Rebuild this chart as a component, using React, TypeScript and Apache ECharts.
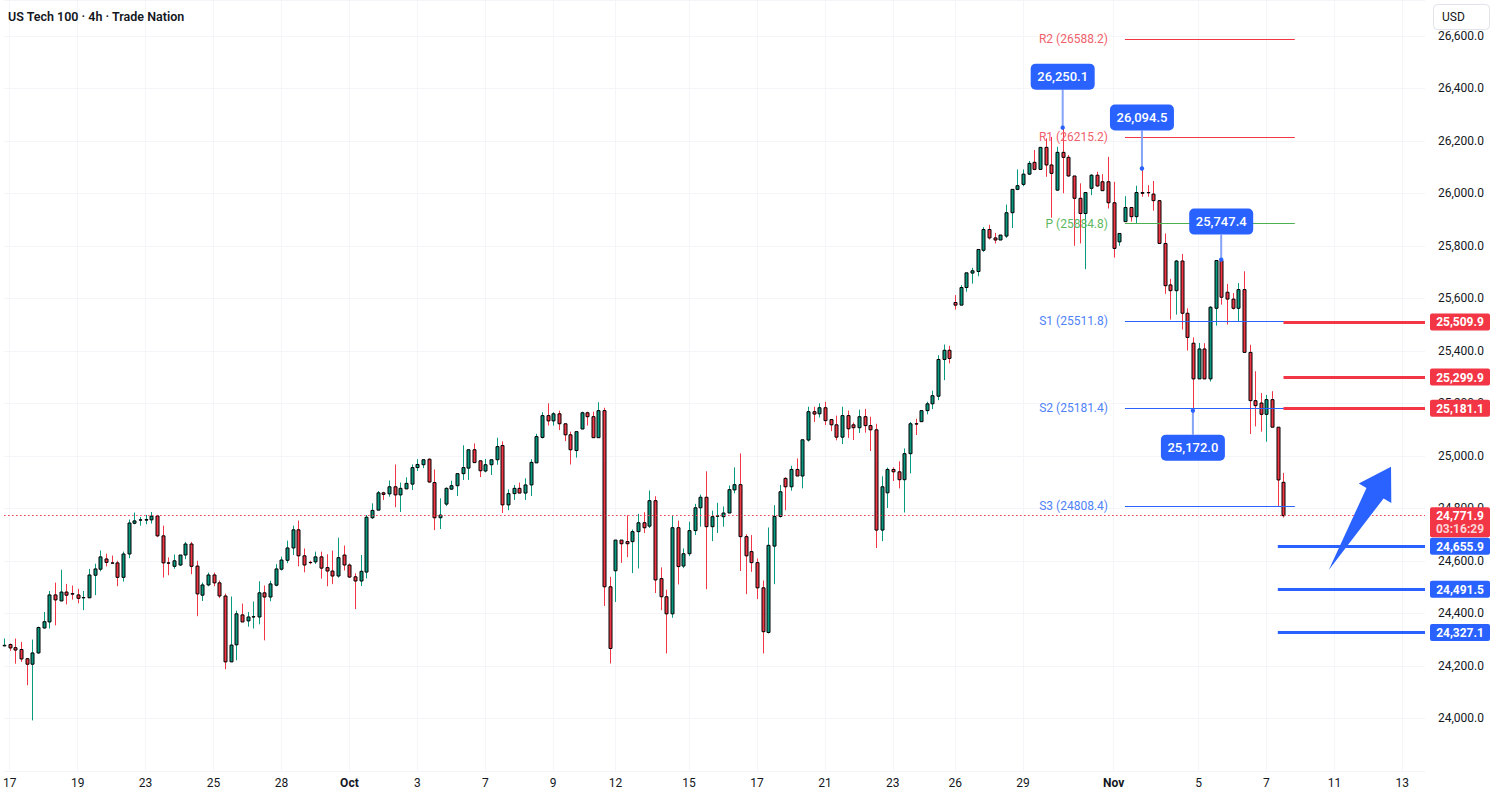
import React, { useEffect, useRef } from "react";
import * as echarts from "echarts";

// ---- Candle data (4h bars, US Tech 100) ----
const opens = [
  24276, 24281, 24269, 24262, 24227, 24206, 24249, 24344, 24367, 24470,
  24447, 24481, 24475, 24470, 24459, 24459, 24545, 24568, 24607, 24592,
  24592, 24537, 24626, 24743, 24755, 24755, 24756, 24771, 24695, 24592,
  24579, 24584, 24622, 24664, 24580, 24469, 24508, 24546, 24516, 24466,
  24215, 24280, 24394, 24371, 24386, 24386, 24478, 24462, 24507, 24568,
  24602, 24649, 24718, 24619, 24594, 24596, 24615, 24574, 24561, 24542,
  24622, 24584, 24539, 24523, 24557, 24764, 24793, 24859, 24855, 24882,
  24851, 24874, 24892, 24955, 24966, 24987, 24898, 24764, 24816, 24873,
  24886, 24932, 24953, 25023, 24981, 24942, 24966, 24985, 25039, 24813,
  24856, 24876, 24858, 24889, 24973, 25070, 25153, 25133, 25160, 25122,
  25080, 25020, 25102, 25164, 25149, 25069, 25172, 24501, 24562, 24679,
  24673, 24673, 24711, 24745, 24732, 24829, 24532, 24463, 24398, 24726,
  24580, 24627, 24715, 24802, 24842, 24730, 24770, 24768, 24782, 24870,
  24890, 24692, 24635, 24593, 24497, 24327, 24656, 24769, 24914, 24882,
  24948, 24923, 25060, 25168, 25160, 25183, 25138, 25118, 25071, 25153,
  25118, 25107, 25149, 25115, 25099, 24717, 24859, 24948, 24939, 24909,
  25008, 25122, 25130, 25172, 25198, 25227, 25367, 25402, 25584, 25574,
  25641, 25696, 25702, 25783, 25862, 25830, 25822, 25837, 25926, 26015,
  26034, 26073, 26118, 26091, 26175, 26108, 26012, 26156, 26137, 26066,
  25981, 25923, 26019, 26069, 26044, 26044, 25964, 25815, 25892, 25946,
  25911, 26003, 26003, 25997, 25972, 25809, 25651, 25629, 25742, 25543,
  25429, 25293, 25407, 25293, 25562, 25744, 25623, 25597, 25562, 25633,
  25394, 25210, 25201, 25158, 25214, 25109, 24899,
];
const highs = [
  24304, 24285, 24304, 24291, 24230, 24300, 24349, 24405, 24485, 24517,
  24566, 24512, 24506, 24493, 24485, 24569, 24589, 24639, 24627, 24620,
  24600, 24635, 24757, 24784, 24767, 24775, 24786, 24775, 24734, 24613,
  24624, 24622, 24672, 24672, 24600, 24517, 24555, 24555, 24525, 24475,
  24464, 24410, 24437, 24405, 24445, 24522, 24506, 24524, 24587, 24616,
  24677, 24734, 24753, 24647, 24600, 24635, 24635, 24625, 24639, 24688,
  24658, 24590, 24552, 24622, 24774, 24819, 24866, 24863, 24906, 24967,
  24898, 24918, 24967, 24987, 24985, 24990, 24948, 24838, 24880, 24905,
  24932, 25040, 25023, 25047, 24981, 24988, 24985, 25069, 25055, 24872,
  24889, 24898, 24914, 24987, 25084, 25166, 25200, 25166, 25172, 25122,
  25092, 25092, 25168, 25168, 25168, 25204, 25183, 24539, 24679, 24679,
  24773, 24719, 24779, 24785, 24868, 24846, 24575, 24490, 24772, 24753,
  24647, 24749, 24817, 24852, 24941, 24791, 24821, 24807, 24887, 24956,
  25009, 24701, 24698, 24609, 24525, 24727, 24812, 24889, 24918, 24962,
  24990, 25061, 25187, 25187, 25200, 25206, 25138, 25153, 25187, 25172,
  25127, 25176, 25179, 25149, 25122, 24922, 24955, 24956, 24979, 25028,
  25129, 25141, 25174, 25206, 25248, 25383, 25424, 25419, 25612, 25650,
  25697, 25716, 25786, 25871, 25880, 25849, 25841, 25957, 26015, 26091,
  26091, 26123, 26165, 26175, 26209, 26215, 26177, 26250.1, 26146, 26066,
  26038, 26003, 26073, 26082, 26073, 26139, 26044, 25847, 25989, 25946,
  26029, 26094.5, 26031, 26047, 25972, 25847, 25674, 25746, 25769, 25562,
  25451, 25430, 25429, 25570, 25745, 25747.4, 25655, 25620, 25658, 25703,
  25423, 25322, 25239, 25232, 25246, 25109, 24935,
];
const lows = [
  24274, 24257, 24208, 24215, 24126, 23992, 24246, 24342, 24342, 24354,
  24447, 24434, 24452, 24438, 24412, 24459, 24469, 24560, 24579, 24590,
  24503, 24521, 24610, 24739, 24734, 24739, 24742, 24690, 24536, 24545,
  24570, 24580, 24606, 24549, 24389, 24447, 24503, 24503, 24458, 24187,
  24215, 24221, 24367, 24349, 24342, 24358, 24297, 24446, 24503, 24563,
  24591, 24622, 24579, 24556, 24587, 24588, 24532, 24503, 24511, 24536,
  24563, 24535, 24416, 24504, 24533, 24759, 24793, 24832, 24844, 24804,
  24786, 24874, 24870, 24942, 24953, 24898, 24717, 24721, 24809, 24870,
  24847, 24908, 24908, 24974, 24919, 24937, 24927, 24966, 24782, 24793,
  24832, 24858, 24832, 24847, 24973, 25066, 25115, 25115, 25098, 25056,
  24967, 24993, 25102, 25115, 25069, 25069, 24428, 24209, 24443, 24592,
  24614, 24553, 24571, 24706, 24725, 24477, 24412, 24247, 24383, 24510,
  24572, 24618, 24698, 24730, 24492, 24675, 24706, 24730, 24782, 24857,
  24561, 24473, 24558, 24454, 24247, 24323, 24511, 24765, 24793, 24867,
  24923, 24876, 25054, 25129, 25146, 25117, 25094, 25059, 25045, 25068,
  25060, 25087, 25088, 25018, 24649, 24675, 24801, 24904, 24876, 24784,
  24933, 25079, 25130, 25158, 25178, 25212, 25288, 25352, 25557, 25574,
  25625, 25656, 25684, 25777, 25824, 25809, 25822, 25830, 25868, 26012,
  26027, 26070, 26088, 26091, 26063, 25907, 26010, 26000, 26063, 25800,
  25809, 25711, 25993, 26025, 26010, 25942, 25755, 25800, 25892, 25892,
  25883, 25987, 25987, 25934, 25809, 25617, 25519, 25538, 25481, 25401,
  25172, 25293, 25293, 25283, 25496, 25576, 25500, 25557, 25512, 25394,
  25083, 25112, 25092, 25054, 25109, 24808, 24765,
];
const closes = [
  24278, 24268, 24260, 24226, 24206, 24249, 24346, 24368, 24470, 24451,
  24481, 24469, 24473, 24457, 24460, 24546, 24569, 24615, 24594, 24591,
  24537, 24626, 24744, 24752, 24756, 24757, 24770, 24695, 24592, 24591,
  24600, 24622, 24664, 24579, 24474, 24508, 24546, 24516, 24466, 24215,
  24279, 24398, 24367, 24386, 24387, 24478, 24462, 24512, 24569, 24603,
  24649, 24718, 24619, 24584, 24593, 24615, 24572, 24561, 24542, 24612,
  24584, 24538, 24523, 24560, 24766, 24792, 24859, 24853, 24882, 24851,
  24876, 24895, 24955, 24967, 24985, 24900, 24764, 24774, 24876, 24886,
  24932, 24955, 25023, 24974, 24943, 24966, 24985, 25035, 24813, 24856,
  24876, 24858, 24889, 24975, 25073, 25153, 25133, 25160, 25122, 25080,
  25023, 25092, 25164, 25149, 25069, 25172, 24501, 24266, 24679, 24665,
  24665, 24711, 24745, 24726, 24829, 24527, 24463, 24398, 24726, 24578,
  24627, 24715, 24802, 24842, 24730, 24768, 24771, 24782, 24871, 24890,
  24692, 24619, 24593, 24497, 24330, 24659, 24769, 24863, 24882, 24948,
  24923, 25061, 25168, 25159, 25183, 25134, 25118, 25071, 25153, 25103,
  25107, 25149, 25115, 25099, 24717, 24882, 24948, 24939, 24909, 25008,
  25122, 25121, 25172, 25198, 25229, 25367, 25402, 25371, 25574, 25641,
  25697, 25705, 25786, 25862, 25830, 25822, 25841, 25926, 26015, 26029,
  26073, 26114, 26091, 26175, 26108, 26076, 26156, 26137, 26066, 25981,
  25923, 26003, 26069, 26028, 26010, 25964, 25790, 25847, 25946, 25911,
  26003, 26000, 26002, 25972, 25809, 25648, 25629, 25742, 25543, 25451,
  25293, 25407, 25293, 25566, 25744, 25604, 25597, 25562, 25633, 25394,
  25210, 25191, 25158, 25214, 25109, 24908, 24771.9,
];

// time axis: total slots (bars + empty future space), and labelled slots
const TOTAL_SLOTS = 252;
const timeLabelIndex = [1, 13, 25, 37, 49, 61, 73, 85, 97, 108, 121, 133, 145, 157, 168, 180, 196, 211, 223, 235, 247];
const timeLabelText = ["17", "19", "23", "25", "28", "Oct", "3", "7", "9", "12", "15", "17", "21", "23", "26", "29", "Nov", "5", "7", "11", "13"];

// price scale range
const priceMin = 23800;
const priceMax = 26736.4;
const priceStep = 200;

// pivot points
const pivotNames = ["R2", "R1", "P", "S1", "S2", "S3"];
const pivotValues = [26588.2, 26215.2, 25884.8, 25511.8, 25181.4, 24808.4];
const pivotStartIndex = 198;
const pivotEndIndex = 228;

// horizontal levels drawn to the price scale
const resistanceLevels = [25509.9, 25299.9, 25181.1];
const resistanceStartIndex = 226;
const supportLevels = [24655.9, 24491.5, 24327.1];
const supportStartIndex = 225;
const lastPrice = 24771.9;
const countdown = "03:16:29";

// callouts on swing highs / lows
const calloutIndex = [187, 201, 215, 210];
const calloutValue = [26250.1, 26094.5, 25747.4, 25172.0];
const calloutAbove = [true, true, true, false];
const calloutGap = [38, 38, 25, 24];

// up arrow annotation (data space)
const arrowFrom = [234, 24565];
const arrowTo = [245, 24958.5];

const FONT = "Roboto, 'Noto Sans', sans-serif";
const UP = "#089981";
const DOWN = "#F23645";
const BLUE = "#2962FF";
const TEXT = "#131722";

const pivotLineColors = ["#F23645", "#F23645", "#4CAF50", "#2962FF", "#2962FF", "#2962FF"];
const pivotLabelColors = ["#F0616C", "#F0616C", "#5DB861", "#4F82F7", "#4F82F7", "#4F82F7"];

const fmt = (v: number) =>
  v.toLocaleString("en-US", { minimumFractionDigits: 1, maximumFractionDigits: 1 });

export default function App() {
  const ref = useRef<HTMLDivElement>(null);

  useEffect(() => {
    const el = ref.current;
    if (!el) return;
    const chart = echarts.init(el, null, { renderer: "svg", width: 1495, height: 796 });

    const categories = Array.from({ length: TOTAL_SLOTS }, (_, i) => String(i));
    const labelMap = new Map<number, string>();
    timeLabelIndex.forEach((idx, k) => labelMap.set(idx, timeLabelText[k]));

    const candleData = opens.map((o, i) => [i, o, closes[i], lows[i], highs[i]]);

    const lastIdx = TOTAL_SLOTS - 1;

    const markLines: any[] = [];
    pivotNames.forEach((n, k) => {
      markLines.push([
        {
          coord: [pivotStartIndex, pivotValues[k]],
          lineStyle: { color: pivotLineColors[k], width: 1, type: "solid" },
          label: {
            show: true,
            position: "start",
            distance: 17,
            formatter: `${n} (${pivotValues[k]})`,
            color: pivotLabelColors[k],
            fontSize: 12,
            fontFamily: FONT,
          },
        },
        { coord: [pivotEndIndex, pivotValues[k]] },
      ]);
    });
    resistanceLevels.forEach((v) => {
      markLines.push([
        { coord: [resistanceStartIndex, v], lineStyle: { color: DOWN, width: 3, type: "solid" }, label: { show: false } },
        { coord: [lastIdx, v] },
      ]);
    });
    supportLevels.forEach((v) => {
      markLines.push([
        { coord: [supportStartIndex, v], lineStyle: { color: BLUE, width: 3, type: "solid" }, label: { show: false } },
        { coord: [lastIdx, v] },
      ]);
    });
    markLines.push([
      { coord: [0, lastPrice], lineStyle: { color: DOWN, width: 1, type: [1.5, 2.5] }, label: { show: false } },
      { coord: [lastIdx, lastPrice] },
    ]);

    const option: any = {
      animation: false,
      backgroundColor: "#ffffff",
      textStyle: { fontFamily: FONT },
      grid: { left: 1, right: 70, top: 0, height: 770.8 },
      xAxis: {
        type: "category",
        data: categories,
        boundaryGap: false,
        axisLine: { show: false },
        axisTick: { show: false },
        axisLabel: {
          interval: 0,
          margin: 6,
          color: TEXT,
          fontSize: 12,
          fontFamily: FONT,
          formatter: (_v: string, idx: number) => {
            const t = labelMap.get(idx);
            if (!t) return "";
            return t === "Oct" || t === "Nov" ? `{b|${t}}` : t;
          },
          rich: { b: { fontWeight: "bold", fontSize: 12, color: TEXT, fontFamily: FONT } },
        },
        splitLine: {
          show: true,
          interval: (idx: number) => labelMap.has(idx),
          lineStyle: { color: "#f4f5f8", width: 1 },
        },
      },
      yAxis: {
        type: "value",
        position: "right",
        min: priceMin,
        max: priceMax,
        interval: priceStep,
        axisLine: { show: false },
        axisTick: { show: false },
        axisLabel: {
          margin: 13,
          color: TEXT,
          fontSize: 12,
          fontFamily: FONT,
          showMinLabel: false,
          showMaxLabel: false,
          formatter: (v: number) => (v % priceStep === 0 ? fmt(v) : ""),
        },
        splitLine: { show: true, lineStyle: { color: "#f4f5f8", width: 1 } },
      },
      series: [
        {
          type: "custom",
          name: "US Tech 100",
          data: candleData,
          encode: { x: 0, y: [1, 2, 3, 4] },
          clip: false,
          renderItem: (params: any, api: any) => {
            const i = api.value(0);
            const o = api.value(1);
            const c = api.value(2);
            const l = api.value(3);
            const h = api.value(4);
            const pO = api.coord([i, o]);
            const pC = api.coord([i, c]);
            const pL = api.coord([i, l]);
            const pH = api.coord([i, h]);
            const up = c >= o;
            const col = up ? UP : DOWN;
            const x = Math.round(pO[0]) + 0.5;
            const top = Math.min(pO[1], pC[1]);
            const bot = Math.max(pO[1], pC[1]);
            return {
              type: "group",
              children: [
                {
                  type: "line",
                  shape: { x1: x, y1: pH[1], x2: x, y2: pL[1] },
                  style: { stroke: col, lineWidth: 1 },
                },
                {
                  type: "rect",
                  shape: { x: x - 1.5, y: top, width: 3, height: Math.max(bot - top, 0.01) },
                  style: { fill: col, stroke: "#000000", lineWidth: 1 },
                },
              ],
            };
          },
          markLine: {
            silent: true,
            symbol: ["none", "none"],
            animation: false,
            precision: 1,
            data: markLines,
          },
          z: 2,
        },
      ],
    };

    chart.setOption(option);

    const px = (i: number, v: number) =>
      chart.convertToPixel({ xAxisIndex: 0, yAxisIndex: 0 }, [i, v]) as number[];

    const graphics: any[] = [];
    const rightEdge = px(lastIdx, lastPrice)[0];
    const boxX = rightEdge + 5;
    const boxW = 60;

    // price-scale labels
    const scaleLabel = (v: number, color: string) => {
      const y = px(lastIdx, v)[1];
      graphics.push({
        type: "rect",
        z: 100,
        shape: { x: boxX, y: y - 8.5, width: boxW, height: 17, r: 2 },
        style: { fill: color },
      });
      graphics.push({
        type: "text",
        z: 101,
        x: boxX + boxW / 2,
        y: y + 0.5,
        style: {
          text: fmt(v),
          fill: "#ffffff",
          font: `bold 12px ${FONT}`,
          textAlign: "center",
          textVerticalAlign: "middle",
        },
      });
    };
    resistanceLevels.forEach((v) => scaleLabel(v, DOWN));
    supportLevels.forEach((v) => scaleLabel(v, BLUE));

    // current price + countdown
    {
      const y = px(lastIdx, lastPrice)[1];
      graphics.push({
        type: "rect",
        z: 100,
        shape: { x: boxX, y: y - 8.5, width: boxW, height: 30, r: 2 },
        style: { fill: DOWN },
      });
      graphics.push({
        type: "text",
        z: 101,
        x: boxX + boxW / 2,
        y: y + 0.5,
        style: { text: fmt(lastPrice), fill: "#ffffff", font: `bold 12px ${FONT}`, textAlign: "center", textVerticalAlign: "middle" },
      });
      graphics.push({
        type: "text",
        z: 101,
        x: boxX + boxW / 2,
        y: y + 13.5,
        style: { text: countdown, fill: "#FBD3D6", font: `bold 12px ${FONT}`, textAlign: "center", textVerticalAlign: "middle" },
      });
    }

    // callouts
    calloutIndex.forEach((idx, k) => {
      const [cx, cy] = px(idx, calloutValue[k]);
      const w = 64;
      const h = 26;
      const gap = calloutGap[k];
      const boxY = calloutAbove[k] ? cy - gap - h : cy + gap;
      const lineEnd = calloutAbove[k] ? cy - gap : cy + gap;
      graphics.push({
        type: "line",
        z: 90,
        shape: { x1: cx, y1: cy, x2: cx, y2: lineEnd },
        style: { stroke: "#85A3F7", lineWidth: 2 },
      });
      graphics.push({
        type: "circle",
        z: 91,
        shape: { cx, cy, r: 2.2 },
        style: { fill: BLUE },
      });
      graphics.push({
        type: "rect",
        z: 92,
        shape: { x: cx - w / 2, y: boxY, width: w, height: h, r: 5 },
        style: { fill: BLUE },
      });
      graphics.push({
        type: "text",
        z: 93,
        x: cx,
        y: boxY + h / 2,
        style: {
          text: fmt(calloutValue[k]),
          fill: "#ffffff",
          font: `500 13px ${FONT}`,
          textAlign: "center",
          textVerticalAlign: "middle",
        },
      });
    });

    // arrow
    {
      const T = px(arrowFrom[0], arrowFrom[1]);
      const P = px(arrowTo[0], arrowTo[1]);
      const dx = P[0] - T[0];
      const dy = P[1] - T[1];
      const L = Math.sqrt(dx * dx + dy * dy);
      const ux = dx / L;
      const uy = dy / L;
      const nx = -uy;
      const ny = ux;
      const bx = T[0] + ux * L * 0.743;
      const by = T[1] + uy * L * 0.743;
      const pts = [
        [T[0], T[1]],
        [bx - nx * 10, by - ny * 10],
        [bx - nx * 19, by - ny * 19],
        [P[0], P[1]],
        [bx + nx * 19, by + ny * 19],
        [bx + nx * 10, by + ny * 10],
      ];
      graphics.push({
        type: "polygon",
        z: 95,
        shape: { points: pts },
        style: { fill: BLUE },
      });
    }

    // title
    graphics.push({
      type: "text",
      z: 110,
      x: 8,
      y: 16,
      style: {
        text: "US Tech 100 · 4h · Trade Nation",
        fill: TEXT,
        font: `600 12.5px ${FONT}`,
        textVerticalAlign: "middle",
      },
    });

    // currency box
    graphics.push({
      type: "rect",
      z: 110,
      shape: { x: 1433.5, y: 4.5, width: 56, height: 25, r: 4 },
      style: { fill: "#ffffff", stroke: "#E0E3EB", lineWidth: 1 },
    });
    graphics.push({
      type: "text",
      z: 111,
      x: 1442,
      y: 17,
      style: { text: "USD", fill: TEXT, font: `12px ${FONT}`, textVerticalAlign: "middle" },
    });

    chart.setOption({ graphic: graphics });

    return () => {
      chart.dispose();
    };
  }, []);

  return (
    <div
      ref={ref}
      style={{ position: "fixed", left: 0, top: 0, width: 1495, height: 796, background: "#ffffff" }}
    />
  );
}
